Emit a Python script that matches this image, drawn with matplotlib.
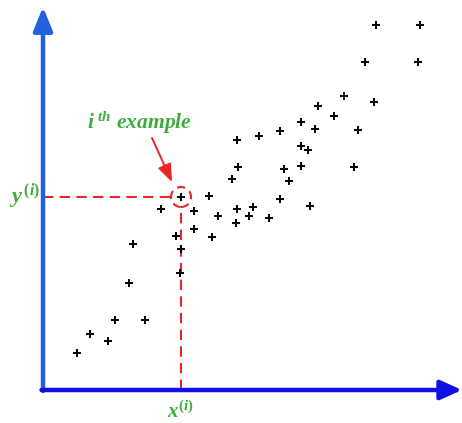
import matplotlib
matplotlib.use("Agg")
import matplotlib.pyplot as plt
from matplotlib.patches import Circle, ArrowStyle

plt.rcParams['mathtext.fontset'] = 'custom'
plt.rcParams['mathtext.it'] = 'Liberation Serif:italic:bold'
plt.rcParams['mathtext.rm'] = 'Liberation Serif:bold'

# training examples (feature x, target y)
x_vals = [34, 47, 65, 72, 102, 86, 90, 133, 138, 137, 151, 169, 175, 138, 118,
          166, 151, 194, 210, 206, 193, 226, 195, 189, 241, 246, 237, 267, 258,
          311, 258, 265, 194, 216, 237, 258, 272, 275, 291, 301, 331, 315, 322,
          375, 333, 377]
y_vals = [37, 56, 49, 70, 70, 107, 146, 154, 141, 117, 161, 153, 174, 193, 181,
          194, 179, 181, 183, 174, 167, 172, 223, 211, 221, 209, 191, 184, 224,
          223, 244, 240, 250, 254, 259, 268, 261, 284, 274, 294, 288, 260, 328,
          328, 365, 365]

# highlighted example
xi, yi = 138, 193

fig = plt.figure(figsize=(4.62, 4.23), dpi=100)
ax = fig.add_axes([0, 0, 1, 1])
ax.set_xlim(-43, 419)
ax.set_ylim(-33, 390)
ax.set_aspect('auto')
ax.axis('off')

green = '#3cad3c'
red = '#e8262a'

# axes arrows
ax.annotate('', xy=(0, 383), xytext=(0, -1),
            arrowprops=dict(arrowstyle=ArrowStyle('-|>', head_length=1.1, head_width=0.45),
                            mutation_scale=13, lw=3.2, color='#2260dd',
                            shrinkA=0, shrinkB=0))
ax.annotate('', xy=(419, 0), xytext=(-1.5, 0),
            arrowprops=dict(arrowstyle=ArrowStyle('-|>', head_length=1.0, head_width=0.45),
                            mutation_scale=13, lw=3.2, color='#1010e6',
                            shrinkA=0, shrinkB=0))

# guide lines to the highlighted example
r = 10
ax.plot([0, xi - r], [yi, yi], color=red, lw=1.5, ls=(0, (5, 3)))
ax.plot([xi, xi], [0, yi - r], color=red, lw=1.5, ls=(0, (5, 3)))
ax.add_patch(Circle((xi, yi), r, fill=False, ec=red, lw=1.5, ls=(0, (4, 2.5))))

# scatter of examples
ax.plot(x_vals, y_vals, ls='none', marker='+', ms=5.5, mew=1.4, color='black')

# annotation
ax.annotate('', xy=(129, 208), xytext=(109, 252),
            arrowprops=dict(arrowstyle=ArrowStyle('-|>', head_length=0.9, head_width=0.35),
                            mutation_scale=12, lw=1.4, color=red,
                            shrinkA=0, shrinkB=0))
ax.text(96, 267, r'$i^{\;th}\ example$', color=green, fontsize=15.5,
        ha='center', va='center')
ax.text(-34, yi + 1, r'$y^{\,(i)}$', color=green, fontsize=16,
        ha='left', va='center')
ax.text(xi - 1, -21, r'$x^{(i)}$', color=green, fontsize=15,
        ha='center', va='center')

fig.savefig('out.png', dpi=100)
